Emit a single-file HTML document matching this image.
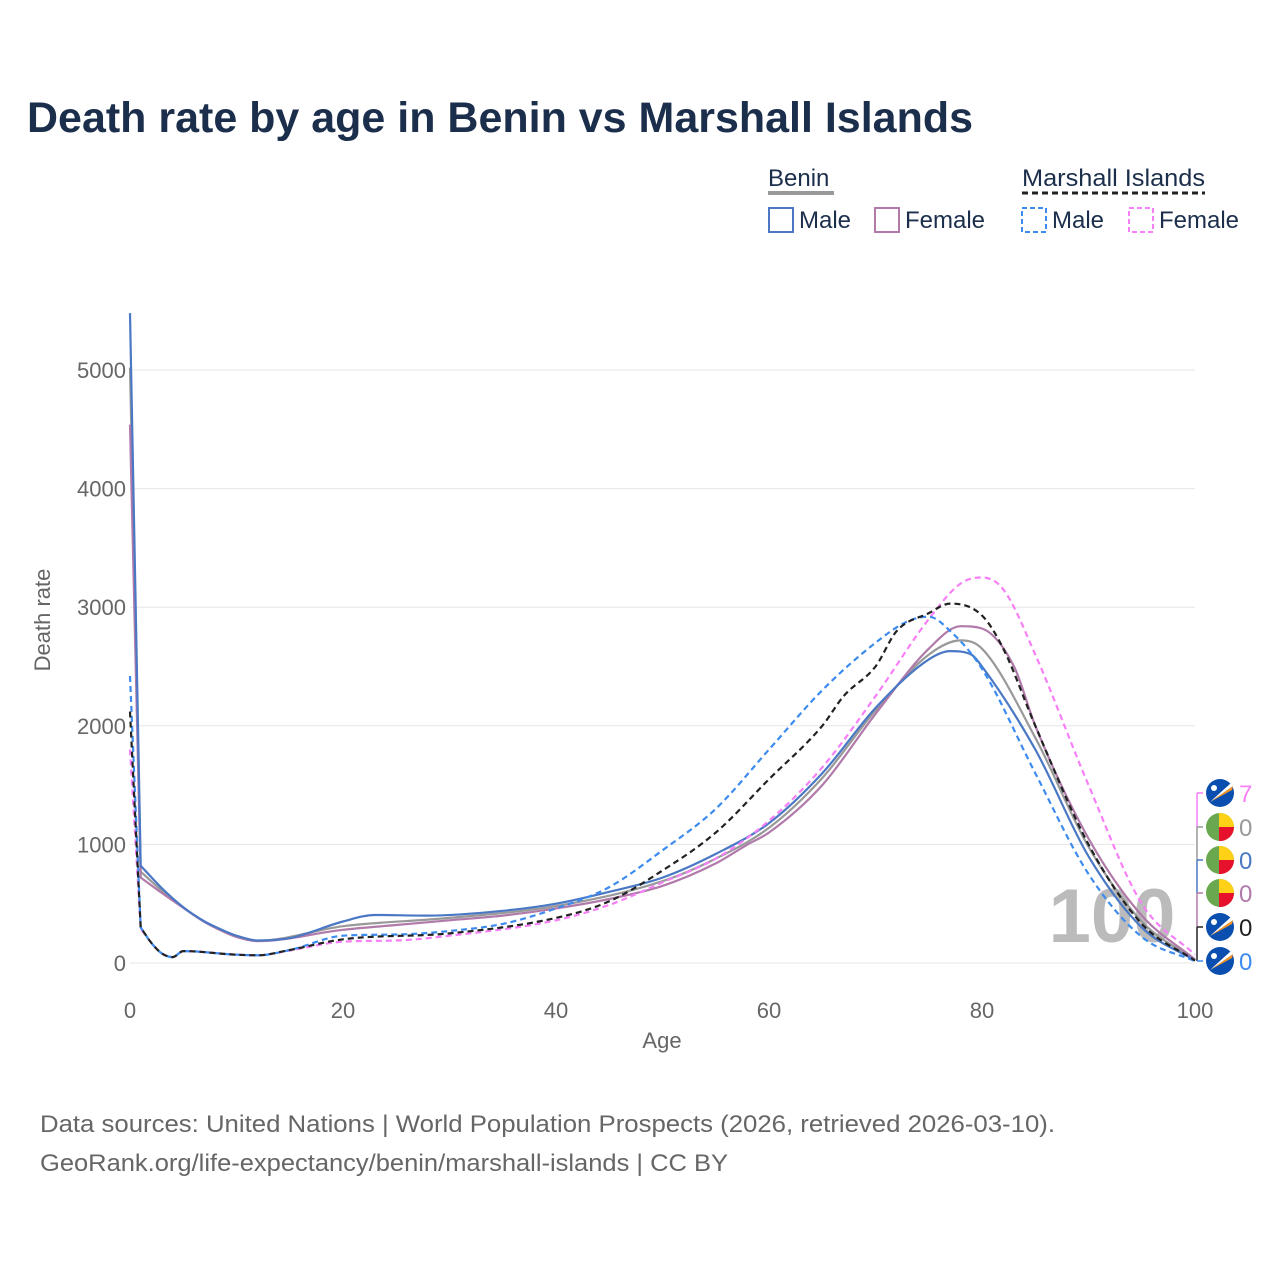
<!DOCTYPE html>
<html><head><meta charset="utf-8"><style>
body{margin:0;background:#fff;font-family:"Liberation Sans",sans-serif}
svg text{font-family:"Liberation Sans",sans-serif}
</style></head><body>
<svg id="c" width="1280" height="1280" viewBox="0 0 1280 1280">
<text x="27" y="132" font-size="43" font-weight="bold" fill="#1b2e4b" textLength="946" lengthAdjust="spacingAndGlyphs">Death rate by age in Benin vs Marshall Islands</text>
<g>
<text x="768" y="186" font-size="24" fill="#1b2e4b">Benin</text>
<line x1="768" y1="193" x2="834" y2="193" stroke="#999" stroke-width="4"/>
<text x="1022" y="186" font-size="24" fill="#1b2e4b" textLength="183" lengthAdjust="spacingAndGlyphs">Marshall Islands</text>
<line x1="1022" y1="193" x2="1205" y2="193" stroke="#222" stroke-width="3" stroke-dasharray="6,4"/>
<g><rect x="769" y="208" width="24" height="24" fill="none" stroke="#4a78c4" stroke-width="2"/><text x="799" y="228" font-size="24" fill="#1b2e4b">Male</text></g>
<g><rect x="875" y="208" width="24" height="24" fill="none" stroke="#b07aaa" stroke-width="2"/><text x="905" y="228" font-size="24" fill="#1b2e4b">Female</text></g>
<g><rect x="1022" y="208" width="24" height="24" fill="none" stroke="#3d8bef" stroke-width="2" stroke-dasharray="5,3"/><text x="1052" y="228" font-size="24" fill="#1b2e4b">Male</text></g>
<g><rect x="1129" y="208" width="24" height="24" fill="none" stroke="#f77ff7" stroke-width="2" stroke-dasharray="5,3"/><text x="1159" y="228" font-size="24" fill="#1b2e4b">Female</text></g>
</g>
<g id="grid"></g>
<text x="50" y="620" font-size="22" fill="#666" transform="rotate(-90 50 620)" text-anchor="middle">Death rate</text>
<text x="662" y="1048" font-size="22" fill="#666" text-anchor="middle">Age</text>
<text x="1112" y="942" font-size="76" font-weight="bold" fill="#bbb" text-anchor="middle">100</text>
<g id="series"></g>
<g id="ends"></g>
<text x="40" y="1132" font-size="24" fill="#666" textLength="1015" lengthAdjust="spacingAndGlyphs">Data sources: United Nations | World Population Prospects (2026, retrieved 2026-03-10).</text>
<text x="40" y="1171" font-size="24" fill="#666" textLength="688" lengthAdjust="spacingAndGlyphs">GeoRank.org/life-expectancy/benin/marshall-islands | CC BY</text>
</svg>
<script>
const yTicks=[0,1000,2000,3000,4000,5000];
const xTicks=[0,20,40,60,80,100];
const beninMaleAges=[0,1,3,5,7,9,10,12,15,20,23,28,35,40,45,50,55,60,65,70,75,77,79,80,85,90,95,100];
const beninMaleVals=[5480,820,630,470,350,265,230,190,210,350,405,400,440,500,600,720,920,1180,1600,2150,2560,2630,2600,2500,1800,900,300,20];
const beninFemaleAges=[0,1,3,5,7,9,10,12,20,25,30,35,40,45,50,55,58,60,65,70,75,78,80,83,85,90,95,100];
const beninFemaleVals=[4540,720,590,465,345,255,220,185,280,320,360,400,460,540,650,840,1000,1100,1500,2100,2650,2840,2820,2500,2000,1050,400,30];
const beninTotalAges=[0,1,3,5,7,9,10,12,20,30,40,50,55,60,65,70,75,78,80,85,90,95,100];
const beninTotalVals=[5020,770,610,468,348,260,225,188,310,380,480,690,880,1140,1560,2130,2600,2720,2650,1900,980,350,25];
const miMaleAges=[0,1,2,3,4,5,10,12,15,20,25,30,35,40,45,50,55,60,65,70,73,75,77,80,85,90,95,100];
const miMaleVals=[2420,300,170,80,50,100,70,65,110,230,240,270,330,460,640,950,1300,1800,2300,2700,2880,2920,2800,2480,1600,750,220,15];
const miTotalAges=[0,1,2,3,4,5,10,12,15,20,30,40,45,50,55,60,65,67,70,72,75,77,80,82,85,90,95,100];
const miTotalVals=[2120,300,170,80,50,100,70,65,110,200,250,380,520,780,1100,1550,2000,2250,2500,2800,2950,3030,2930,2650,2000,1000,330,20];
const miFemaleAges=[0,1,2,3,4,5,10,12,15,20,25,30,40,45,50,55,60,65,70,75,78,80,82,85,90,95,100];
const miFemaleVals=[1800,290,170,80,50,100,70,65,105,180,190,230,360,490,680,880,1200,1650,2250,2900,3200,3250,3150,2600,1500,500,70];
const endLabels=["7","0","0","0","0","0"];

const NS="http://www.w3.org/2000/svg";
const X=a=>130+a*10.65;
const Y=v=>963-v*0.1186;
function mk(t,p,at){const e=document.createElementNS(NS,t);for(const k in at)e.setAttribute(k,at[k]);p.appendChild(e);return e;}
const grid=document.getElementById('grid');
yTicks.forEach(v=>{
  const l=mk('line',grid,{x1:130,x2:1195,y1:Y(v),y2:Y(v),stroke:'#e6e6e6','stroke-width':1});
  
  
  const t=mk('text',grid,{x:126,y:Y(v)+8,'font-size':22,fill:'#666','text-anchor':'end'});
  t.textContent=v;
  
  
});
xTicks.forEach(a=>{
  const t=mk('text',grid,{x:X(a),y:1018,'font-size':22,fill:'#666','text-anchor':'middle'});
  t.textContent=a;
  
  
});
function monoPath(xs,ys){
  const n=xs.length,d=[],m=[];
  for(let i=0;i<n-1;i++)d.push((ys[i+1]-ys[i])/(xs[i+1]-xs[i]));
  m[0]=d[0];m[n-1]=d[n-2];
  for(let i=1;i<n-1;i++){m[i]=(d[i-1]*d[i]<=0)?0:(d[i-1]+d[i])/2;}
  for(let i=0;i<n-1;i++){
    if(d[i]===0){m[i]=0;m[i+1]=0;continue;}
    const a=m[i]/d[i],b=m[i+1]/d[i],s=a*a+b*b;
    if(s>9){const t=3/Math.sqrt(s);m[i]=t*a*d[i];m[i+1]=t*b*d[i];}
  }
  let p='';
  for(let i=0;i<n-1;i++){
    const h=(xs[i+1]-xs[i])/3;
    p+='C'+(xs[i]+h).toFixed(1)+','+(ys[i]+m[i]*h).toFixed(1)+' '+(xs[i+1]-h).toFixed(1)+','+(ys[i+1]-m[i+1]*h).toFixed(1)+' '+xs[i+1].toFixed(1)+','+ys[i+1].toFixed(1);
  }
  return p;
}
const sg=document.getElementById('series');
function line(ages,vals,col,dash,name){
  const xs=ages.map(X),ys=vals.map(Y);
  const d='M'+xs[0].toFixed(1)+','+ys[0].toFixed(1)+'L'+xs[1].toFixed(1)+','+ys[1].toFixed(1)+monoPath(xs.slice(1),ys.slice(1));
  const p=mk('path',sg,{d:d,fill:'none',stroke:col,'stroke-width':2.2,'stroke-linejoin':'round'});
  if(dash)p.setAttribute('stroke-dasharray','6,4');
  
  
}
line(beninTotalAges,beninTotalVals,'#999',false,'line-benin-total');
line(beninFemaleAges,beninFemaleVals,'#b07aaa',false,'line-benin-female');
line(beninMaleAges,beninMaleVals,'#4a78c4',false,'line-benin-male');
line(miFemaleAges,miFemaleVals,'#f77ff7',true,'line-mi-female');
line(miMaleAges,miMaleVals,'#3d8bef',true,'line-mi-male');
line(miTotalAges,miTotalVals,'#222',true,'line-mi-total');

const eg=document.getElementById('ends');
const endCols=['#f77ff7','#999','#4a78c4','#b07aaa','#222','#3d8bef'];
const flags=['mi','bj','bj','bj','mi','mi'];
const ys=[793,827,860,893,927,961];
for(let i=0;i<5;i++){
  mk('line',eg,{x1:1197,x2:1197,y1:ys[i],y2:ys[i+1],stroke:endCols[i],'stroke-width':1.5});
}
ys.forEach((y,i)=>{
  mk('line',eg,{x1:1197,x2:1203,y1:y,y2:y,stroke:endCols[i],'stroke-width':1.5});
  const g=mk('g',eg,{});
  
  
  const cx=1220;
  if(flags[i]==='mi'){
    mk('circle',g,{cx:cx,cy:y,r:14,fill:'#0a4fb0'});
    mk('path',g,{d:`M${cx-10},${y+9}L${cx+13},${y-7}L${cx+12},${y-3}Z`,fill:'#f7931e'});
    mk('path',g,{d:`M${cx-10},${y+9}L${cx+13},${y-7}L${cx+11},${y-10}Z`,fill:'#fff'});
    mk('circle',g,{cx:cx-6,cy:y-5,r:3,fill:'#fff'});
  }else{
    mk('circle',g,{cx:cx,cy:y,r:14,fill:'#6aa84f'});
    mk('path',g,{d:`M${cx-1},${y-14}A14,14 0 0 1 ${cx+14},${y}L${cx-1},${y}Z`,fill:'#fcd116'});
    mk('path',g,{d:`M${cx-1},${y}L${cx+14},${y}A14,14 0 0 1 ${cx-1},${y+14}Z`,fill:'#e8112d'});
  }
  const t=mk('text',eg,{x:1239,y:y+9,'font-size':24,fill:endCols[i]});
  t.textContent=endLabels[i];
  
  
});
</script>
</body></html>
